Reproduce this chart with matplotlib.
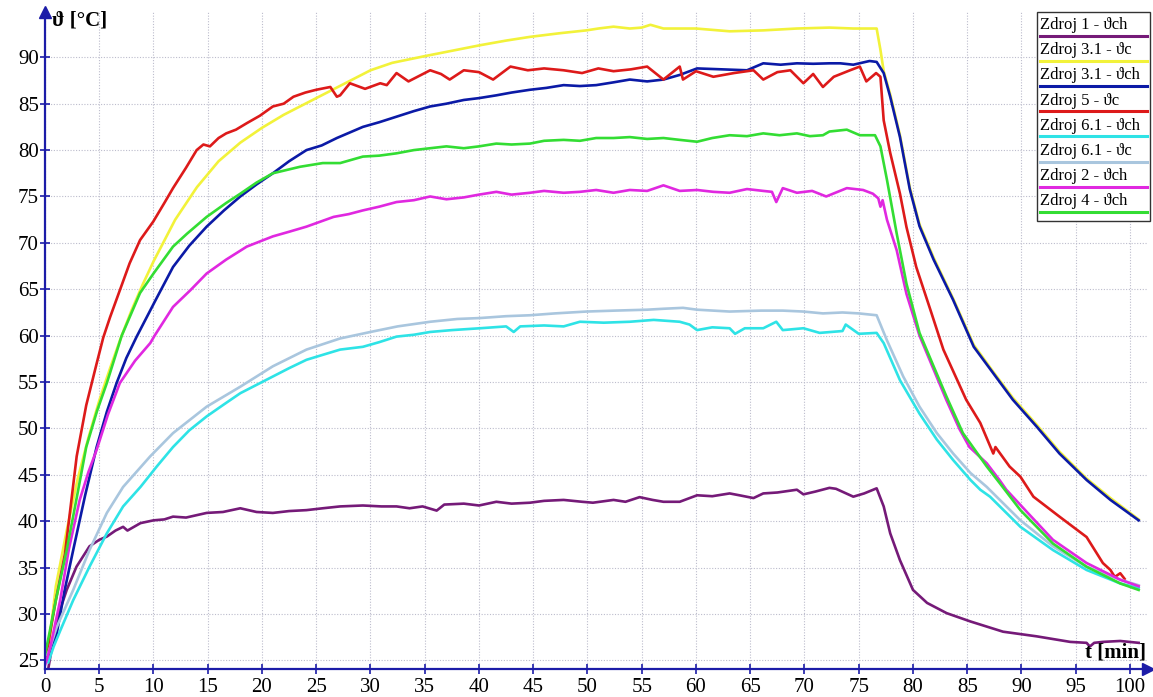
import matplotlib
matplotlib.use('Agg')
import matplotlib.pyplot as plt
from matplotlib.patches import Rectangle
from matplotlib.lines import Line2D

plt.rcParams['font.family'] = ['Liberation Serif', 'DejaVu Serif']

# Zdroj 1 - ϑch
t_z1 = [0.3, 0.8, 1.4, 2.0, 2.9, 4.1, 5.0, 5.7, 6.5, 7.2, 7.6, 8.8, 10, 11, 11.8, 13, 14.9, 16.4, 18, 19.5,
        21, 22.5, 24.1, 25.6, 27.2, 29.3, 31, 32.4, 33.6, 34.8, 36.1, 36.8, 38.6, 40, 41.6, 43, 44.7, 46, 47.8,
        49.5, 50.5, 52.4, 53.5, 54.8, 56, 57, 58.5, 60.1, 61.5, 63.1, 64, 65.3, 66.2, 67.5, 69.3, 69.9, 71,
        72.3, 72.9, 74.5, 75.5, 76.65, 77.3, 77.9, 78.8, 80.0, 81.3, 83.1, 85.3, 88.3, 91.4, 94.5, 96, 96.3,
        96.7, 97.5, 99.1, 100.8]
T_z1 = [24.1, 27.5, 30.5, 32.6, 35.1, 37.3, 38.0, 38.35, 39.0, 39.4, 39.0, 39.8, 40.1, 40.2, 40.5, 40.4, 40.9,
        41.0, 41.4, 41.0, 40.9, 41.1, 41.2, 41.4, 41.6, 41.7, 41.6, 41.6, 41.4, 41.6, 41.15, 41.8, 41.9, 41.7,
        42.1, 41.9, 42.0, 42.2, 42.3, 42.1, 42.0, 42.3, 42.1, 42.6, 42.3, 42.1, 42.1, 42.8, 42.7, 43.0, 42.8,
        42.5, 43.0, 43.1, 43.4, 42.9, 43.2, 43.6, 43.5, 42.65, 43.0, 43.55, 41.6, 38.7, 35.8, 32.6, 31.2, 30.1,
        29.2, 28.1, 27.6, 27.0, 26.9, 26.5, 26.9, 27.0, 27.1, 26.9]

# Zdroj 3.1 - ϑc
t_z31c = [0, 0.3, 1, 2, 3, 4, 5, 6, 7, 8, 9, 10, 12, 14, 16, 18, 20, 22, 24, 26, 28, 30, 32, 34.9, 37.5, 40.1,
          42.5, 44.7, 47.5, 49.9, 51, 52.4, 53.9, 55, 55.8, 57, 60, 63.1, 66.2, 69.3, 72.3, 74.5, 76.65, 77.0,
          77.3, 77.9, 78.8, 79.7, 80.6, 81.9, 83.7, 85.6, 87.4, 89.2, 91.4, 93.5, 96.0, 98.2, 100.8]
T_z31c = [25.5, 26, 33, 39, 44.5, 49, 53, 56.5, 59.8, 62.8, 65.5, 68, 72.5, 76, 78.8, 80.8, 82.4, 83.8, 85,
          86.2, 87.4, 88.6, 89.4, 90.1, 90.7, 91.3, 91.8, 92.2, 92.6, 92.9, 93.1, 93.3, 93.1, 93.2, 93.5, 93.1,
          93.1, 92.8, 92.9, 93.1, 93.2, 93.1, 93.1, 90.8, 88.5, 86.0, 81.6, 76.0, 72.0, 68.4, 64.0, 59.0, 56.1,
          53.3, 50.4, 47.5, 44.6, 42.5, 40.2]

# Zdroj 3.1 - ϑch
t_z31ch = [0, 0.3, 1.08, 1.8, 2.6, 3.7, 4.76, 5.7, 6.6, 7.5, 8.45, 10.2, 11.8, 13.3, 14.9, 16.5, 18.0, 19.5,
           21.0, 22.5, 24.1, 25.5, 26.9, 29.3, 30.8, 32.4, 34, 35.5, 37, 38.6, 40, 41.6, 43, 44.7, 46.2, 47.8,
           49.3, 50.8, 52.4, 53.9, 55.5, 57.0, 58.5, 60.1, 62.4, 64.7, 66.2, 67.8, 69.3, 70.8, 72.3, 73.3, 74.5,
           76.0, 76.65, 77.3, 77.9, 78.8, 79.7, 80.6, 81.9, 83.7, 85.6, 87.4, 89.2, 91.4, 93.5, 96.0, 98.2, 100.8]
T_z31ch = [25.2, 25.5, 27.9, 32.5, 36.9, 42.8, 48.0, 51.8, 54.9, 57.6, 59.9, 63.85, 67.4, 69.7, 71.75, 73.5,
           75.0, 76.3, 77.5, 78.8, 80.0, 80.5, 81.3, 82.5, 83.0, 83.6, 84.2, 84.7, 85.0, 85.4, 85.6, 85.9, 86.2,
           86.5, 86.7, 87.0, 86.9, 87.0, 87.3, 87.6, 87.4, 87.6, 88.1, 88.8, 88.7, 88.6, 89.35, 89.2, 89.35, 89.3,
           89.35, 89.35, 89.2, 89.6, 89.5, 88.3, 85.75, 81.4, 75.8, 71.8, 68.2, 63.85, 58.8, 55.95, 53.1, 50.2,
           47.3, 44.45, 42.3, 40.1]

# Zdroj 5 - ϑc
t_z5 = [0, 0.15, 0.4, 1, 1.84, 2.92, 3.8, 4.76, 5.37, 6.0, 6.9, 7.8, 8.76, 9.98, 11, 11.8, 13, 13.98, 14.6,
        15.2, 16, 16.7, 17.6, 18.6, 19.8, 21.0, 22, 22.9, 24, 25.0, 26.3, 26.9, 27.2, 28.1, 29.5, 30.9, 31.5,
        32.4, 33.5, 35.5, 36.5, 37.3, 38.6, 40, 41.3, 42.9, 44.5, 46, 47.8, 49.5, 51, 52.4, 54, 55.5, 57.0,
        58.5, 58.8, 60, 61.6, 63.5, 65.3, 66.2, 67.5, 68.7, 69.9, 70.8, 71.7, 72.7, 74.2, 75.1, 75.7, 76.6,
        77.0, 77.3, 77.9, 78.8, 79.4, 80.3, 81.6, 82.8, 84.9, 86.2, 87.4, 87.6, 88.9, 89.9, 91.1, 93.5, 96.0,
        97.5, 98.2, 98.6, 99.1, 99.5]
T_z5 = [25.2, 25.2, 27.5, 31.5, 36.5, 47.0, 52.5, 57.0, 59.8, 62.0, 64.9, 67.8, 70.3, 72.3, 74.3, 75.9, 78.1,
        80.0, 80.6, 80.4, 81.3, 81.8, 82.2, 82.9, 83.7, 84.7, 85.0, 85.75, 86.2, 86.5, 86.8, 85.75, 85.9, 87.2,
        86.6, 87.2, 87.0, 88.3, 87.4, 88.6, 88.2, 87.6, 88.6, 88.4, 87.6, 89.0, 88.6, 88.8, 88.6, 88.3, 88.8,
        88.5, 88.7, 89.0, 87.6, 89.0, 87.6, 88.5, 87.9, 88.3, 88.6, 87.6, 88.4, 88.6, 87.2, 88.2, 86.8, 87.9,
        88.6, 89.0, 87.4, 88.3, 87.9, 83.2, 79.7, 75.3, 71.7, 67.4, 62.8, 58.5, 53.1, 50.6, 47.3, 48.0, 45.9,
        44.8, 42.65, 40.5, 38.3, 35.5, 34.75, 34.0, 34.4, 33.8]

# Zdroj 6.1 - ϑch
t_z61ch = [0.3, 0.8, 1.4, 2.6, 4.1, 5.7, 7.2, 8.8, 10.3, 11.8, 13.3, 14.9, 16.5, 18.0, 19.5, 21.0, 22.5, 24.1,
           25.5, 27.2, 29.3, 30.8, 32.4, 34, 35.5, 37.5, 40.1, 42.5, 43.2, 43.8, 46, 47.8, 49.3, 51.5, 53.9,
           56.1, 58.5, 59.4, 60.1, 61.5, 63.1, 63.6, 64.5, 66.2, 67.4, 68.0, 69.9, 71.4, 73.5, 73.8, 75, 76.65,
           77.3, 78.8, 80.6, 82.2, 83.7, 85.3, 86.2, 87.1, 89.9, 92.9, 96.0, 99.1, 100.8]
T_z61ch = [24.8, 26.5, 28.2, 31.5, 35.1, 38.7, 41.6, 43.7, 45.9, 48.0, 49.8, 51.3, 52.6, 53.8, 54.7, 55.6,
           56.5, 57.4, 57.9, 58.5, 58.8, 59.3, 59.9, 60.1, 60.4, 60.6, 60.8, 61.0, 60.4, 61.0, 61.1, 61.0, 61.5,
           61.4, 61.5, 61.7, 61.5, 61.2, 60.6, 60.9, 60.8, 60.2, 60.8, 60.8, 61.5, 60.6, 60.8, 60.3, 60.5, 61.2,
           60.2, 60.3, 59.2, 55.2, 51.6, 48.8, 46.6, 44.45, 43.4, 42.65, 39.4, 36.9, 34.75, 33.3, 32.8]

# Zdroj 6.1 - ϑc
t_z61c = [0, 0.3, 1.08, 2.6, 4.1, 5.7, 7.2, 9.7, 11.8, 14.9, 18.0, 21.0, 24.1, 27.2, 30, 32.5, 35.5, 38, 40.1,
          42.5, 44.7, 47, 49.9, 52.5, 55.5, 57, 58.8, 60.1, 63.1, 66, 68, 69.9, 71.7, 73.5, 75, 76.65, 77.6,
          79.1, 80.6, 82.2, 83.7, 85.3, 86.8, 89.9, 92.9, 96.0, 99.1, 100.8]
T_z61c = [25.5, 25.8, 28.6, 32.6, 36.9, 40.9, 43.7, 47.0, 49.5, 52.35, 54.5, 56.7, 58.5, 59.7, 60.4, 61.0,
          61.5, 61.8, 61.9, 62.1, 62.2, 62.4, 62.6, 62.7, 62.8, 62.9, 63.0, 62.8, 62.6, 62.7, 62.7, 62.6, 62.4,
          62.5, 62.4, 62.2, 59.5, 55.6, 52.35, 49.5, 47.3, 45.2, 43.7, 40.1, 37.3, 35.1, 33.7, 33.1]

# Zdroj 2 - ϑch
t_z2 = [0, 0.15, 0.5, 1.4, 2.2, 3.2, 4.0, 4.76, 5.8, 6.9, 8.3, 9.7, 10.1, 11.8, 13.4, 14.9, 16.7, 18.6, 21.0,
        22.5, 24.1, 26.6, 28, 29.3, 30.8, 32.4, 34, 35.5, 37, 38.6, 40, 41.6, 43, 44.7, 46, 47.8, 49.3, 50.8,
        52.4, 53.9, 55.5, 57, 58.5, 60.1, 61.6, 63.1, 64.7, 66.2, 67.0, 67.4, 68.0, 69.3, 70.7, 72, 73.9, 75.4,
        76.3, 76.8, 77.0, 77.2, 77.6, 78.5, 79.4, 80.6, 81.6, 83.1, 84.3, 85.2, 86.8, 88.0, 88.6, 90.5, 92.9,
        96.0, 99.1, 100.8]
T_z2 = [24.5, 25.0, 26.5, 31.5, 37.0, 42.3, 45.3, 47.7, 51.5, 54.9, 57.3, 59.2, 60.0, 63.1, 64.9, 66.7, 68.2,
        69.6, 70.7, 71.2, 71.75, 72.8, 73.1, 73.5, 73.9, 74.4, 74.6, 75.0, 74.7, 74.9, 75.2, 75.5, 75.2, 75.4,
        75.6, 75.4, 75.5, 75.7, 75.4, 75.7, 75.6, 76.2, 75.6, 75.7, 75.5, 75.4, 75.8, 75.6, 75.5, 74.4, 75.9,
        75.4, 75.6, 75.0, 75.9, 75.7, 75.3, 74.8, 73.9, 74.6, 72.5, 69.2, 64.5, 60.0, 57.2, 53.0, 49.9, 48.0,
        46.25, 44.4, 43.4, 41.0, 38.0, 35.5, 33.7, 33.0]

# Zdroj 4 - ϑch
t_z4 = [0, 0.4, 1.0, 2.0, 3.0, 3.8, 4.8, 5.7, 7.07, 8.76, 10.0, 11.8, 13.1, 14.9, 16.7, 18.0, 19.5, 21.0, 23.5,
        25.6, 27.2, 29.3, 30.8, 32.4, 34, 35.5, 37, 38.6, 40, 41.6, 43, 44.7, 46, 47.8, 49.3, 50.8, 52.4, 53.9,
        55.5, 57, 58.5, 60.1, 61.5, 63.1, 64.7, 66.2, 67.7, 69.3, 70.5, 71.7, 72.3, 73.9, 75.1, 76.5, 77.0,
        77.6, 78.5, 79.4, 80.6, 81.9, 83.1, 84.6, 86.8, 88.0, 89.9, 92.9, 96.0, 99.1, 100.8]
T_z4 = [25.6, 27.9, 31.5, 36.9, 43.0, 48.0, 51.9, 54.9, 60.0, 64.6, 66.7, 69.6, 71.0, 72.8, 74.3, 75.3, 76.5,
        77.5, 78.2, 78.6, 78.6, 79.3, 79.4, 79.65, 80.0, 80.2, 80.4, 80.2, 80.4, 80.7, 80.6, 80.7, 81.0, 81.1,
        81.0, 81.3, 81.3, 81.4, 81.2, 81.3, 81.1, 80.9, 81.3, 81.6, 81.5, 81.8, 81.6, 81.8, 81.5, 81.6, 82.0,
        82.2, 81.6, 81.6, 80.4, 76.8, 71.0, 65.6, 60.3, 56.7, 53.4, 49.5, 45.9, 44.1, 41.2, 37.6, 35.1, 33.3,
        32.6]

series = [
    ('Zdroj 1 - ϑch', t_z1, T_z1, '#751a78'),
    ('Zdroj 3.1 - ϑc', t_z31c, T_z31c, '#f2f23a'),
    ('Zdroj 3.1 - ϑch', t_z31ch, T_z31ch, '#0b1aa6'),
    ('Zdroj 5 - ϑc', t_z5, T_z5, '#dd1a1a'),
    ('Zdroj 6.1 - ϑch', t_z61ch, T_z61ch, '#2ee3e6'),
    ('Zdroj 6.1 - ϑc', t_z61c, T_z61c, '#a9c6de'),
    ('Zdroj 2 - ϑch', t_z2, T_z2, '#e028e0'),
    ('Zdroj 4 - ϑch', t_z4, T_z4, '#33dd33'),
]

W, H = 1153, 697
fig = plt.figure(figsize=(W / 100, H / 100), dpi=100)
ax = fig.add_axes([45 / W, 1 - 669 / H, (1148 - 45) / W, (669 - 12) / H])

for label, t, T, c in series:
    ax.plot(t, T, color=c, lw=1.9, solid_joinstyle='round')

ax.set_xlim(0, 101.66)
ax.set_ylim(24.08, 94.88)
ax.set_xticks(range(0, 101, 5))
ax.set_yticks(range(25, 91, 5))
ax.grid(True, color='#bcbccc', linestyle=(0, (1, 1.5)), linewidth=0.8)

axis_col = '#1c1ca8'
for s in ['top', 'right']:
    ax.spines[s].set_visible(False)
for s in ['left', 'bottom']:
    ax.spines[s].set_color(axis_col)
    ax.spines[s].set_linewidth(1.6)
ax.tick_params(direction='inout', length=7, width=1.2, color=axis_col, labelsize=15)
ax.tick_params(axis='x', pad=3)
ax.tick_params(axis='y', pad=1)

# arrow heads
ax.plot(1, 0, '>', color=axis_col, markersize=8, transform=ax.transAxes, clip_on=False)
ax.plot(0, 1, '^', color=axis_col, markersize=8, transform=ax.transAxes, clip_on=False)

fig.text(52 / W, 1 - 20 / H, 'ϑ [°C]', fontsize=15, fontweight='bold', ha='left', va='center')
fig.text(1146 / W, 1 - 652 / H, 't [min]', fontsize=15, fontweight='bold', ha='right', va='center')

# legend box (text above coloured line)
fig.patches.append(Rectangle((1037 / W, 1 - 221 / H), (1150 - 1037) / W, (221 - 12) / H,
                             transform=fig.transFigure, facecolor='white', edgecolor='#333333',
                             linewidth=1.0, zorder=5))
for i, (label, t, T, c) in enumerate(series):
    yc = 25 + 25.2 * i
    yl = 35.5 + 25.2 * i
    fig.text(1040 / W, 1 - yc / H, label, fontsize=12, ha='left', va='center', zorder=6)
    fig.lines.append(Line2D([1040 / W, 1147 / W], [1 - yl / H, 1 - yl / H], transform=fig.transFigure,
                            color=c, linewidth=2.2, zorder=6))

plt.savefig('out.png', dpi=100)
